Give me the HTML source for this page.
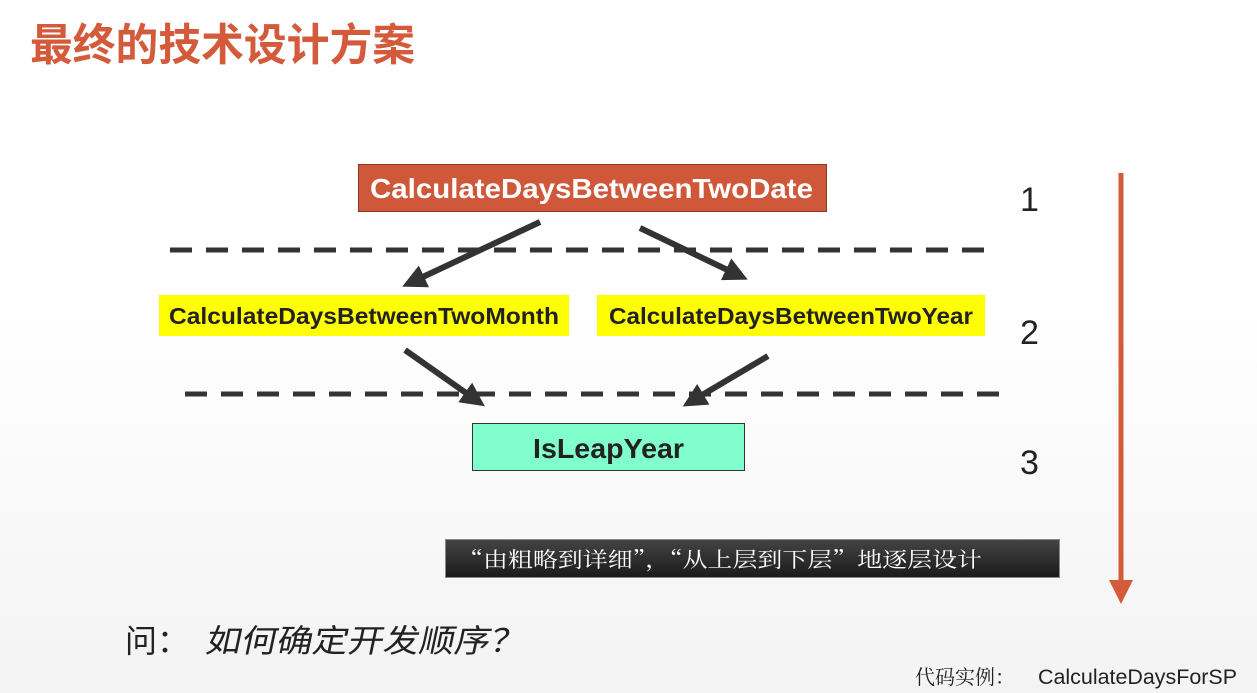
<!DOCTYPE html>
<html><head><meta charset="utf-8"><style>
body{margin:0;width:1257px;height:693px;overflow:hidden;background:linear-gradient(#fff 0%,#fff 45%,#f3f3f3 100%);}
svg{display:block}
</style></head><body>
<svg width="1257" height="693" xmlns="http://www.w3.org/2000/svg" font-family="Liberation Sans, Noto Sans CJK SC, sans-serif">
<defs>
<marker id="ah" markerWidth="4" markerHeight="4" refX="2.2" refY="2" orient="auto" markerUnits="strokeWidth"><path d="M0,0 L4,2 L0,4 z" fill="#333"/></marker>
<linearGradient id="dk" x1="0" y1="0" x2="0" y2="1"><stop offset="0" stop-color="#444"/><stop offset="1" stop-color="#1a1a1a"/></linearGradient>
</defs>
<text x="30" y="60" font-size="44" font-weight="bold" fill="#d35b3c" font-family="Noto Sans CJK SC, sans-serif" textLength="385" lengthAdjust="spacingAndGlyphs">最终的技术设计方案</text>

<rect x="358.5" y="164.5" width="468" height="47" fill="#d0583a" stroke="#8a3a26"/>
<text x="370" y="198" font-size="28" font-weight="bold" fill="#fff" textLength="443" lengthAdjust="spacingAndGlyphs">CalculateDaysBetweenTwoDate</text>

<line x1="170" y1="250" x2="995" y2="250" stroke="#333" stroke-width="5" stroke-dasharray="22,14"/>
<line x1="185" y1="394" x2="1010" y2="394" stroke="#333" stroke-width="5" stroke-dasharray="22,14"/>

<rect x="159" y="295" width="410" height="41" fill="#ffff00"/>
<text x="169" y="324" font-size="23" font-weight="bold" fill="#222" textLength="390" lengthAdjust="spacingAndGlyphs">CalculateDaysBetweenTwoMonth</text>
<rect x="597" y="295" width="388" height="41" fill="#ffff00"/>
<text x="609" y="324" font-size="23" font-weight="bold" fill="#222" textLength="364" lengthAdjust="spacingAndGlyphs">CalculateDaysBetweenTwoYear</text>

<rect x="472.5" y="423.5" width="272" height="47" fill="#80ffcc" stroke="#333"/>
<text x="533" y="458" font-size="28" font-weight="bold" fill="#222" textLength="151" lengthAdjust="spacingAndGlyphs">IsLeapYear</text>

<g stroke="#333" stroke-width="6" marker-end="url(#ah)">
<line x1="540" y1="222" x2="412" y2="282"/>
<line x1="640" y1="228" x2="738" y2="275"/>
<line x1="405" y1="350" x2="476" y2="400"/>
<line x1="768" y1="356" x2="692" y2="401"/>
</g>

<g font-size="34" fill="#222"><text x="1020" y="211">1</text><text x="1020" y="344">2</text><text x="1020" y="474">3</text></g>

<line x1="1121" y1="173" x2="1121" y2="585" stroke="#d35b3c" stroke-width="5"/>
<path d="M1109,580 L1133,580 L1121,604 z" fill="#d35b3c"/>

<rect x="445.5" y="539.5" width="614" height="38" fill="url(#dk)" stroke="#888"/>
<text x="458" y="567" font-size="21" fill="#fff" font-family="Noto Serif CJK SC, serif" textLength="524" lengthAdjust="spacingAndGlyphs">“由粗略到详细”，“从上层到下层”地逐层设计</text>

<text x="125" y="652" font-size="32" fill="#222" font-family="Noto Sans CJK SC, sans-serif">问：</text>
<text x="343" y="652" font-size="32" fill="#222" font-family="Noto Sans CJK SC, sans-serif" transform="skewX(-12)" textLength="320" lengthAdjust="spacingAndGlyphs">如何确定开发顺序？</text>

<text x="915" y="684" font-size="20" fill="#222" font-family="Noto Serif CJK SC, serif">代码实例：</text>
<text x="1038" y="684" font-size="21" fill="#222" textLength="199" lengthAdjust="spacingAndGlyphs">CalculateDaysForSP</text>
</svg>
</body></html>
